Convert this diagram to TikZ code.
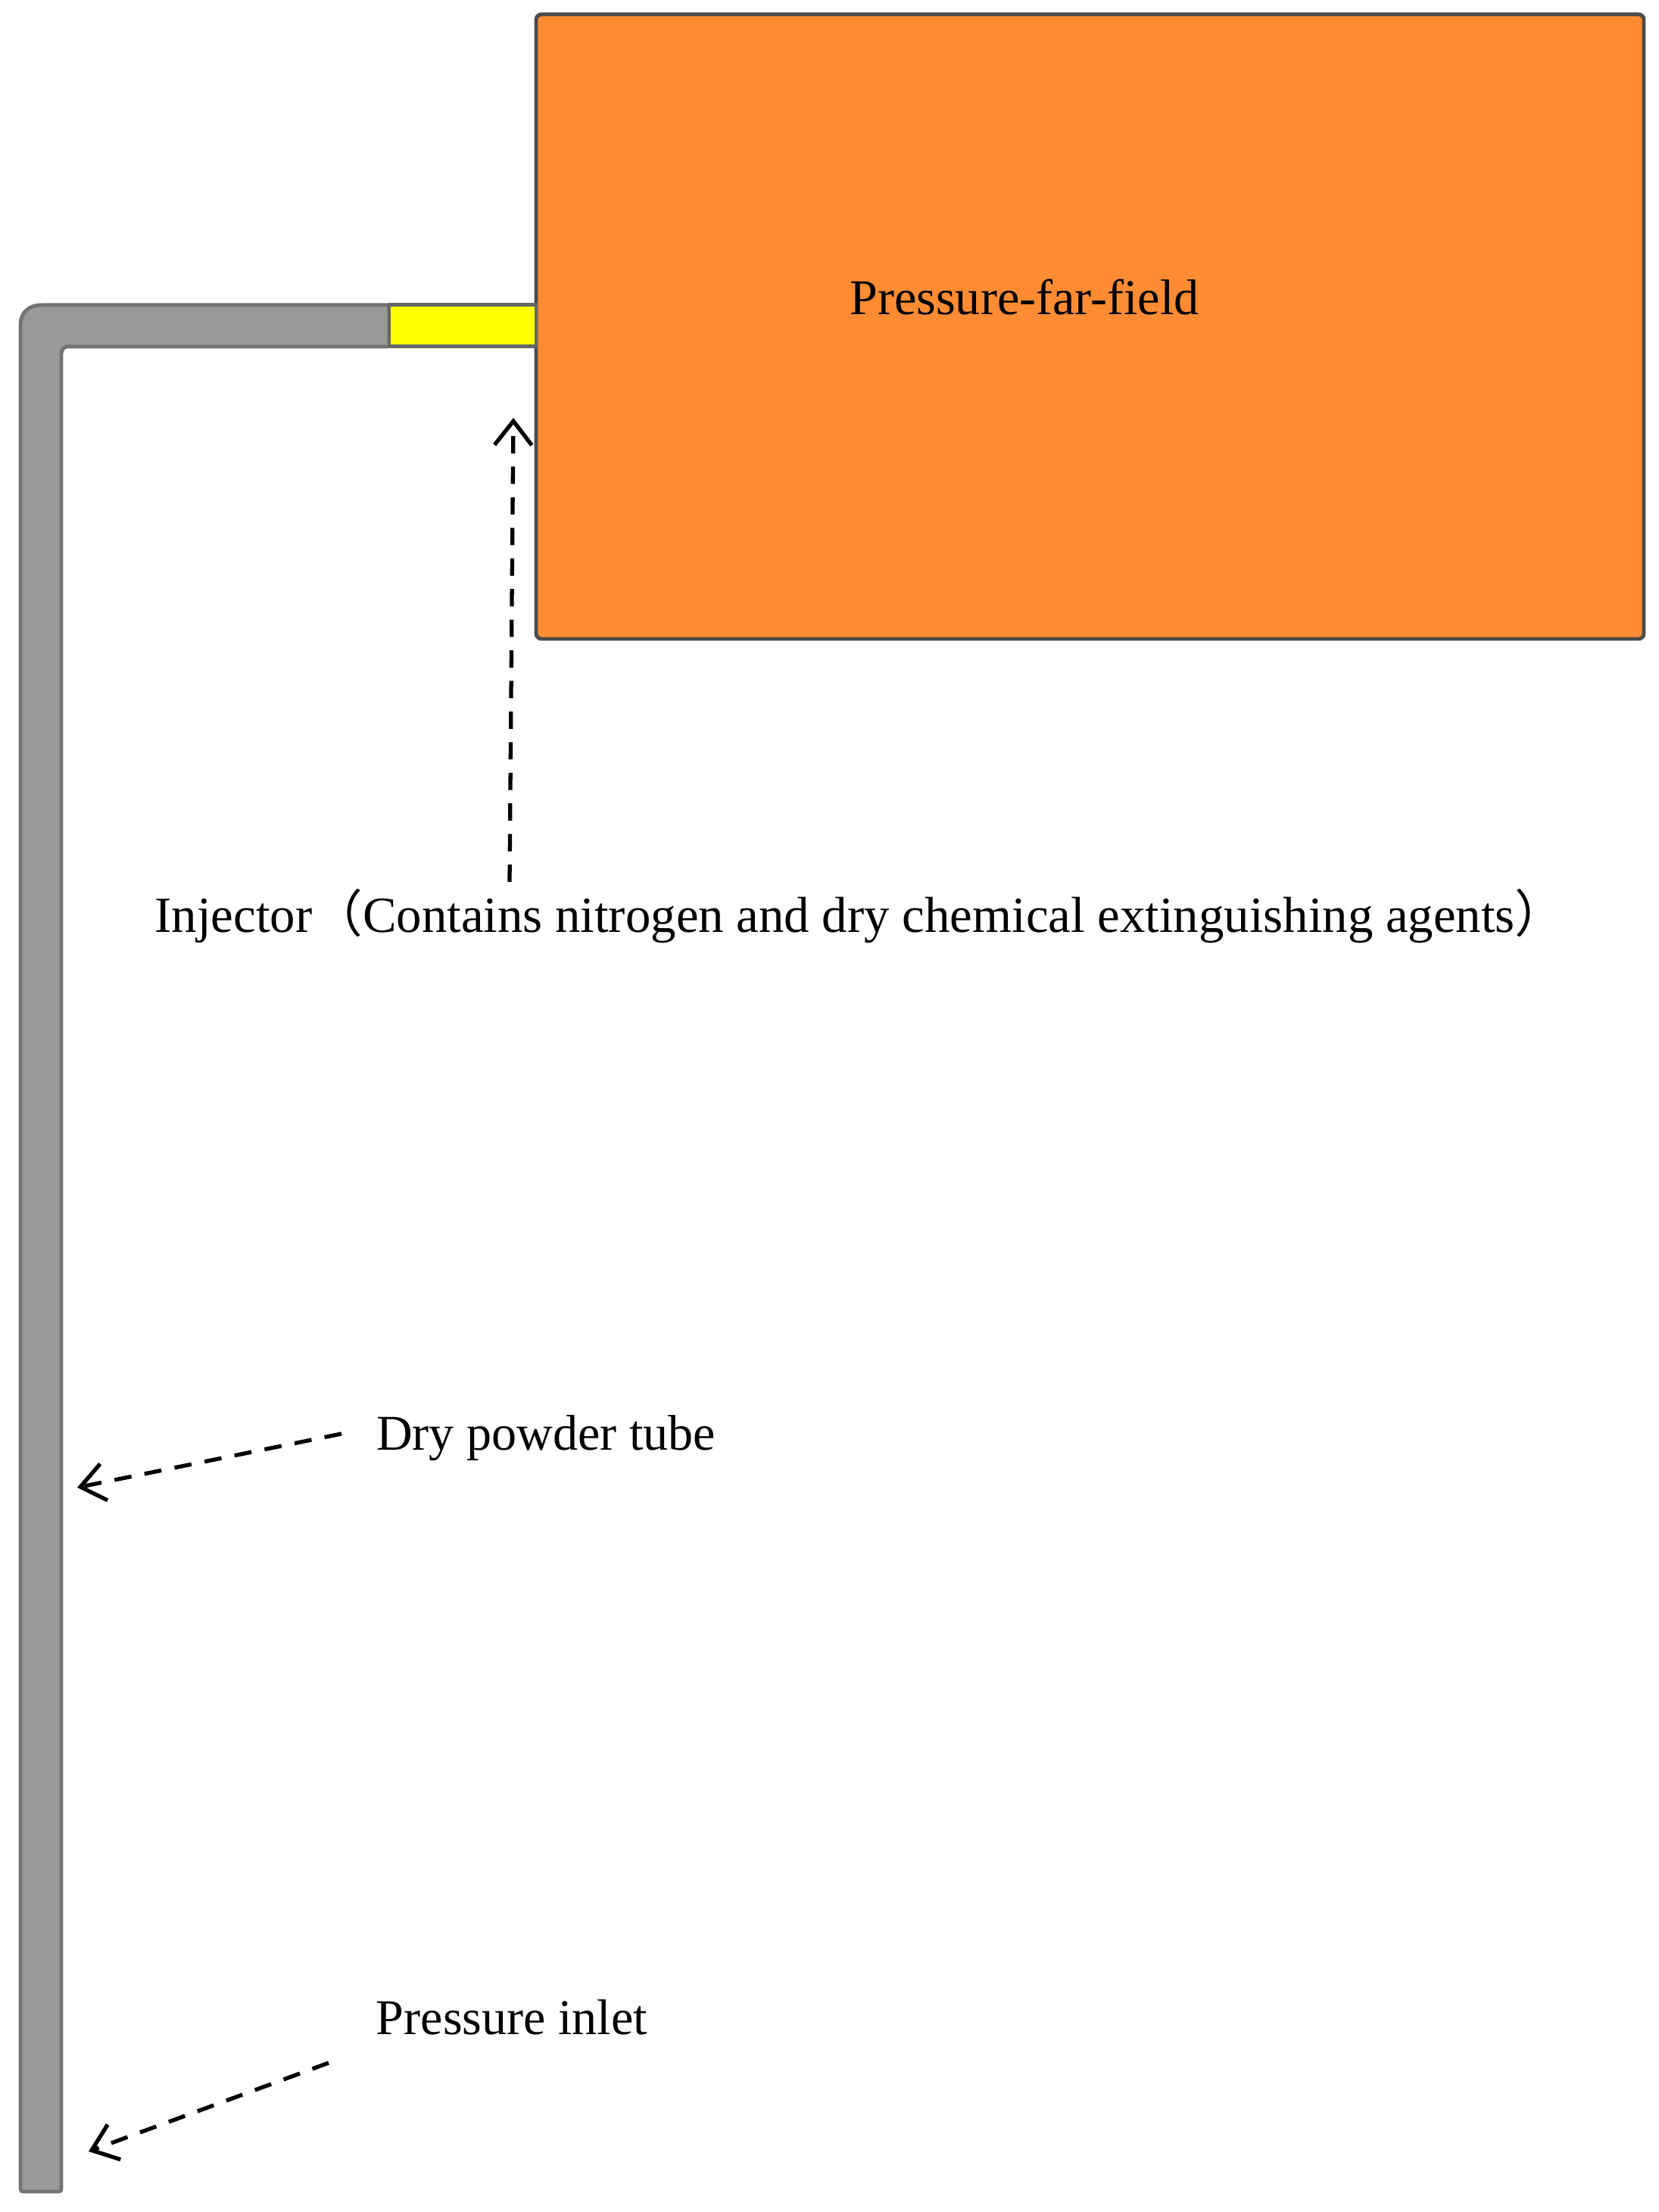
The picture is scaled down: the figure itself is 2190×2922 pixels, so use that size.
\documentclass[tikz,border=0pt]{standalone}
\usepackage{fontspec}
\setmainfont{Liberation Serif}
\newfontfamily\cjkparen{Noto Sans CJK SC}
\usetikzlibrary{arrows.meta}
\definecolor{farfield}{HTML}{FF8C33}
\definecolor{tube}{HTML}{999999}
\definecolor{injector}{HTML}{FFFF00}
\tikzset{
  label text/.style={font=\fontsize{18.8}{22}\selectfont,inner sep=0pt,text=black},
  leader/.style={dashed,dash pattern=on 6.5pt off 5pt,line width=1.5pt,-{Straight Barb[length=9pt,width=14pt,line width=1.5pt]}}
}
\begin{document}
\begin{tikzpicture}
  [x=0.01cm,y=0.01cm]
  \useasboundingbox (0,0) rectangle (2190,2922);

  \filldraw[fill=farfield,draw=black!70,line width=1.4pt,rounded corners=2pt] (708,2078) rectangle (2171,2903);
  \filldraw[fill=tube,draw=black!55,line width=1.4pt,rounded corners=1pt]
    (514,2464) -- (92,2464) .. controls (84,2464) and (81,2459) .. (81,2451) -- (81,27)
    -- (27,27) -- (27,2489) .. controls (27,2509) and (38,2519) .. (58,2519) -- (514,2519) -- cycle;
  \filldraw[fill=injector,draw=black!60,line width=1.4pt] (514,2464) rectangle (708,2519);

  \node[label text] (n1) at (1353,2529) {Pressure-far-field};
  \node[label text] (n2) at (1136,1712) {\fontsize{19}{22}\selectfont Injector{\cjkparen （}Contains nitrogen and dry chemical extinguishing agents{\cjkparen ）}};
  \node[label text] (n3) at (721,1022) {Dry powder tube};
  \node[label text] (n4) at (676,257) {Pressure inlet};

  \coordinate (c1) at (673,1757);
  \coordinate (c2) at (678,2370);
  \coordinate (c3) at (451,1028);
  \coordinate (c4) at (102,957);
  \coordinate (c5) at (434,197);
  \coordinate (c6) at (117,80);

  \foreach \from/\to in {c1/c2,c3/c4,c5/c6}
    \draw[leader] (\from) -- (\to);
\end{tikzpicture}
\end{document}
